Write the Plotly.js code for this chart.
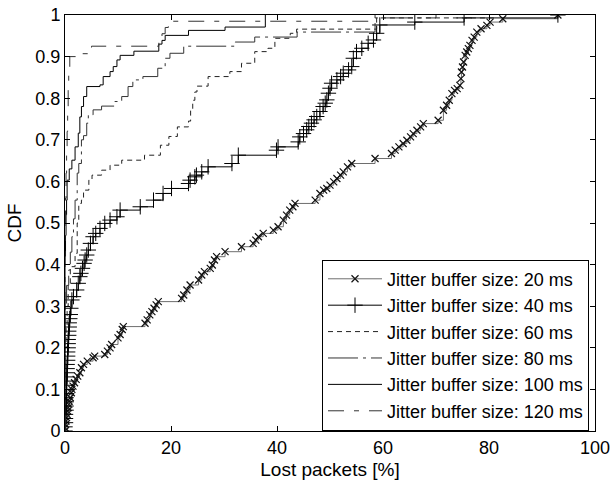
<!DOCTYPE html>
<html>
<head>
<meta charset="utf-8">
<script src="https://cdn.plot.ly/plotly-3.0.1.min.js"></script>
<style>html,body{margin:0;padding:0;background:#fff;}#chart{width:611px;height:482px;}</style>
</head>
<body>
<div id="chart"></div>
<script>
const seriesNames = ["Jitter buffer size: 20 ms","Jitter buffer size: 40 ms","Jitter buffer size: 60 ms","Jitter buffer size: 80 ms","Jitter buffer size: 100 ms","Jitter buffer size: 120 ms"];
const xTicks = [0,20,40,60,80,100];
const yTicks = [0,0.1,0.2,0.3,0.4,0.5,0.6,0.7,0.8,0.9,1];

const x20 = [0,0,0.1,0.2,0.3,0.4,0.5,0.6,0.7,0.8,1.0,1.2,1.3,1.5,1.8,2.1,2.4,2.8,3.1,3.5,4.2,5.3,5.6,7.5,8.0,8.5,8.8,10.0,10.4,10.8,11.0,15.1,15.5,16.0,16.4,16.8,17.2,17.6,22.0,22.4,23.0,23.6,25.2,25.8,26.3,27.4,27.8,28.2,28.6,30.2,33.3,35.5,36.0,36.5,37.4,39.3,40.2,41.2,41.8,42.4,43.0,43.4,47.2,48.1,48.8,49.4,50.0,50.7,51.3,52.0,52.5,53.3,54.1,58.5,61.6,62.3,63.0,63.8,64.5,65.2,65.7,66.4,67.1,67.6,70.4,71.4,72.0,72.5,73.0,73.5,74.0,74.5,74.7,74.8,75.0,75.2,75.5,75.8,76.1,76.4,76.8,77.2,77.7,78.5,79.6,80.2,82.6,93.0];
const y20 = [0,0.008,0.016,0.024,0.032,0.04,0.048,0.056,0.064,0.072,0.08,0.092,0.1,0.108,0.116,0.124,0.132,0.14,0.152,0.16,0.168,0.176,0.18,0.184,0.192,0.2,0.208,0.224,0.232,0.244,0.251,0.259,0.267,0.279,0.287,0.295,0.303,0.311,0.319,0.327,0.339,0.351,0.363,0.375,0.383,0.391,0.399,0.411,0.419,0.431,0.443,0.451,0.459,0.467,0.475,0.483,0.491,0.507,0.519,0.531,0.539,0.547,0.555,0.571,0.579,0.583,0.591,0.599,0.607,0.615,0.623,0.635,0.643,0.655,0.667,0.675,0.683,0.691,0.699,0.707,0.715,0.723,0.731,0.739,0.747,0.771,0.783,0.795,0.811,0.819,0.823,0.831,0.847,0.863,0.875,0.887,0.903,0.911,0.919,0.927,0.939,0.947,0.959,0.967,0.975,0.983,0.991,1.0];

const x40 = [0,0,0.1,0.1,0.1,0.2,0.2,0.2,0.2,0.3,0.3,0.3,0.3,0.4,0.4,0.4,0.4,0.5,0.5,0.5,0.6,0.6,0.6,0.7,0.7,0.8,0.8,0.9,1.0,1.1,1.3,1.6,2.2,2.5,2.8,3.0,3.3,3.6,3.8,4.1,4.4,4.8,5.3,5.8,6.6,7.5,8.5,9.8,10.4,14.2,16.7,18.5,20.1,23.3,23.6,24.5,24.8,25.8,27.0,31.5,32.7,39.9,40.2,44.0,44.3,45.0,45.6,46.0,46.5,47.0,47.5,48.1,48.7,49.1,49.4,49.7,50.0,50.3,51.3,52.0,52.5,53.5,54.1,54.4,55.0,56.0,57.2,58.2,58.8,59.4,66.0,75.3,93.0];
const y40 = [0,0.01,0.02,0.03,0.04,0.05,0.06,0.07,0.08,0.09,0.10,0.11,0.12,0.13,0.14,0.15,0.16,0.17,0.18,0.19,0.20,0.21,0.22,0.23,0.24,0.25,0.26,0.27,0.28,0.295,0.315,0.323,0.339,0.355,0.371,0.379,0.391,0.403,0.411,0.423,0.435,0.451,0.467,0.475,0.487,0.499,0.507,0.515,0.531,0.539,0.555,0.571,0.583,0.595,0.603,0.611,0.615,0.623,0.635,0.643,0.663,0.675,0.683,0.695,0.707,0.715,0.724,0.732,0.74,0.748,0.756,0.768,0.78,0.788,0.796,0.812,0.824,0.836,0.844,0.852,0.86,0.868,0.876,0.896,0.912,0.92,0.932,0.94,0.956,0.976,0.983,0.993,1.0];

const x60 = [0,0,0.2,0.4,0.6,1.0,1.9,2.3,2.6,3.1,3.5,4.5,5.1,6.9,8.5,10.7,15.0,18.0,19.6,21.2,23.3,23.7,24.1,24.5,24.9,27.0,31.1,33.3,35.8,38.3,39.6,42.5,43.7,58.8,81.0];
const y60 = [0,0.2,0.25,0.3,0.35,0.395,0.427,0.5,0.547,0.555,0.579,0.603,0.615,0.627,0.639,0.651,0.663,0.687,0.708,0.731,0.745,0.77,0.795,0.815,0.829,0.852,0.864,0.884,0.912,0.92,0.944,0.956,0.966,0.993,1.0];

const x80 = [0,0,0.3,0.7,1.0,1.3,1.6,1.9,2.3,2.6,3.1,3.5,4.1,4.4,5.3,6.9,9.4,10.7,11.9,12.8,14.7,17.5,18.9,19.8,22.4,32.1,35.8,43.8,58.5,70.0];
const y80 = [0,0.3,0.35,0.387,0.43,0.467,0.51,0.555,0.62,0.643,0.7,0.71,0.74,0.76,0.772,0.781,0.792,0.804,0.828,0.844,0.852,0.872,0.896,0.908,0.925,0.935,0.947,0.959,0.993,1.0];

const x100 = [0,0,0.1,0.2,0.3,0.4,0.8,1.3,1.9,2.5,2.8,3.1,3.5,4.1,6.6,7.2,8.5,9.1,9.8,10.4,13.0,17.7,18.3,18.9,23.3,30.2,37.8];
const y100 = [0,0.42,0.47,0.52,0.555,0.603,0.63,0.651,0.683,0.716,0.755,0.78,0.804,0.828,0.832,0.852,0.864,0.876,0.892,0.903,0.913,0.93,0.939,0.951,0.963,0.971,1.0];

const x120 = [0,0,0.1,0.2,0.3,0.4,0.5,0.6,0.7,0.9,2.8,5.0,17.7,18.3,18.9,19.5,58.5];
const y120 = [0,0.5,0.56,0.62,0.68,0.72,0.77,0.82,0.86,0.9,0.907,0.925,0.94,0.955,0.97,0.985,1.0];

const FONT = "Liberation Sans, Arial, Helvetica, sans-serif";

const traces = [
  {x:x20, y:y20, name:seriesNames[0], mode:"lines+markers", line:{shape:"hv", color:"#6e6e6e", width:1},
   marker:{symbol:"x-thin-open", size:7, color:"#111", line:{color:"#111", width:1.2}}},
  {x:x40, y:y40, name:seriesNames[1], mode:"lines+markers", line:{shape:"hv", color:"#000", width:1},
   marker:{symbol:"cross-thin-open", size:11, color:"#000", line:{color:"#000", width:1}}},
  {x:x60, y:y60, name:seriesNames[2], mode:"lines", line:{shape:"hv", color:"#222", width:1, dash:"5px,4px"}},
  {x:x80, y:y80, name:seriesNames[3], mode:"lines", line:{shape:"hv", color:"#333", width:1, dash:"30px,5px,3px,5px"}},
  {x:x100, y:y100, name:seriesNames[4], mode:"lines", line:{shape:"hv", color:"#000", width:1}},
  {x:x120, y:y120, name:seriesNames[5], mode:"lines", line:{shape:"hv", color:"#333", width:1, dash:"16px,10px,5px,10px"}}
];

const layout = {
  width:611, height:482,
  margin:{l:65, r:16, t:15, b:51},
  paper_bgcolor:"#fff", plot_bgcolor:"#fff",
  font:{family:FONT, size:18, color:"#000"},
  showlegend:true,
  legend:{x:0.9887, y:0.001, xanchor:"right", yanchor:"bottom", bgcolor:"#fff",
          bordercolor:"#000", borderwidth:1, font:{family:FONT, size:18, color:"#000"},
          itemwidth:54, tracegroupgap:0},
  xaxis:{range:[0,100], tickvals:xTicks, ticktext:xTicks.map(String), ticks:"inside", ticklen:5,
         tickcolor:"#000", showline:true, linecolor:"#000", linewidth:1, mirror:"ticks",
         showgrid:false, zeroline:false, fixedrange:true,
         title:{text:"Lost packets [%]", font:{family:FONT, size:19}, standoff:6}},
  yaxis:{range:[0,1], tickvals:yTicks, ticktext:yTicks.map(String), ticks:"inside", ticklen:5,
         tickcolor:"#000", showline:true, linecolor:"#000", linewidth:1, mirror:"ticks",
         showgrid:false, zeroline:false, fixedrange:true,
         title:{text:"CDF", font:{family:FONT, size:19}, standoff:8}}
};

Plotly.newPlot("chart", traces, layout, {displayModeBar:false, staticPlot:true});
</script>
</body>
</html>
